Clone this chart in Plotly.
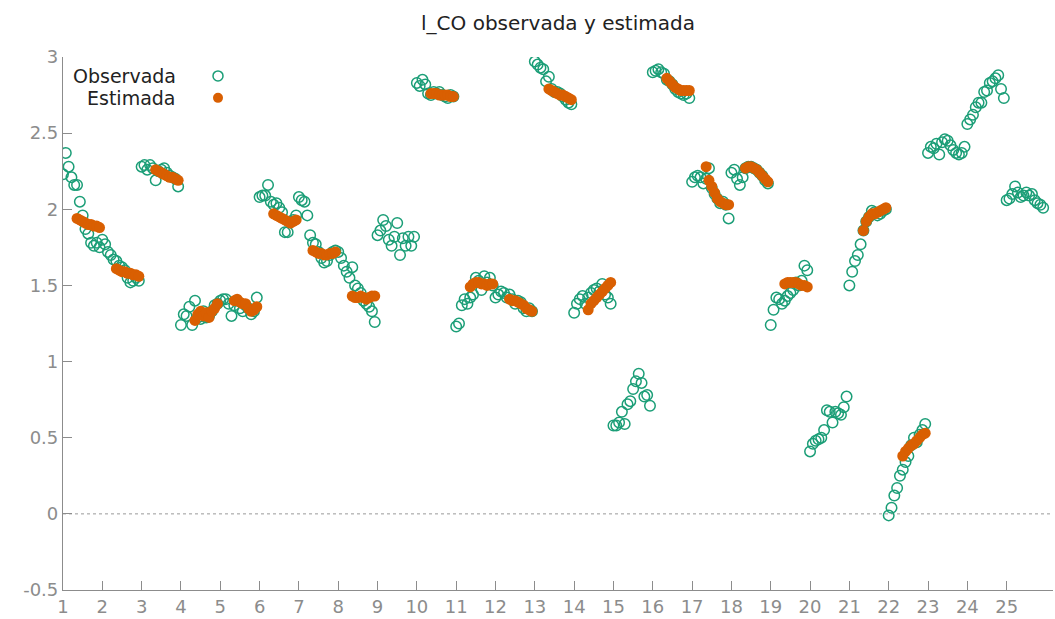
import plotly.graph_objects as go

T = 14
units = list(range(1, 26))

observed = {
    1: [2.23, 2.37, 2.28, 2.21, 2.16, 2.16, 2.05, 1.96, 1.87, 1.84, 1.78, 1.76, 1.78, 1.75],
    2: [1.80, 1.77, 1.72, 1.70, 1.67, 1.66, 1.63, 1.62, 1.60, 1.55, 1.52, 1.53, 1.55, 1.53],
    3: [2.28, 2.29, 2.26, 2.29, 2.27, 2.19, 2.25, 2.26, 2.27, 2.24, 2.22, 2.21, 2.20, 2.15],
    4: [1.24, 1.31, 1.30, 1.36, 1.24, 1.40, 1.29, 1.28, 1.33, 1.29, 1.30, 1.33, 1.37, 1.38],
    5: [1.40, 1.41, 1.41, 1.38, 1.30, 1.37, 1.40, 1.35, 1.33, 1.37, 1.35, 1.31, 1.33, 1.42],
    6: [2.08, 2.09, 2.09, 2.16, 2.05, 2.03, 2.04, 2.01, 1.98, 1.85, 1.85, 1.92, 1.93, 1.96],
    7: [2.08, 2.06, 2.05, 1.96, 1.83, 1.78, 1.77, 1.72, 1.68, 1.65, 1.66, 1.70, 1.72, 1.73],
    8: [1.72, 1.68, 1.63, 1.59, 1.55, 1.62, 1.50, 1.48, 1.45, 1.40, 1.38, 1.36, 1.33, 1.26],
    9: [1.83, 1.86, 1.93, 1.89, 1.80, 1.76, 1.82, 1.91, 1.70, 1.81, 1.76, 1.82, 1.76, 1.82],
    10: [2.83, 2.81, 2.85, 2.82, 2.76, 2.75, 2.77, 2.76, 2.77, 2.75, 2.74, 2.73, 2.75, 2.74],
    11: [1.23, 1.25, 1.37, 1.41, 1.38, 1.42, 1.44, 1.55, 1.53, 1.47, 1.56, 1.52, 1.55, 1.50],
    12: [1.42, 1.44, 1.46, 1.45, 1.42, 1.44, 1.41, 1.38, 1.40, 1.39, 1.35, 1.33, 1.35, 1.33],
    13: [2.97, 2.95, 2.93, 2.92, 2.84, 2.87, 2.79, 2.77, 2.77, 2.76, 2.74, 2.72, 2.70, 2.69],
    14: [1.32, 1.38, 1.41, 1.43, 1.38, 1.42, 1.45, 1.47, 1.48, 1.46, 1.51, 1.44, 1.42, 1.38],
    15: [0.58, 0.58, 0.60, 0.67, 0.59, 0.72, 0.74, 0.82, 0.87, 0.92, 0.86, 0.77, 0.78, 0.71],
    16: [2.90, 2.91, 2.92, 2.90, 2.89, 2.85, 2.84, 2.82, 2.79, 2.77, 2.76, 2.75, 2.76, 2.73],
    17: [2.18, 2.21, 2.22, 2.21, 2.17, 2.20, 2.27, 2.14, 2.10, 2.07, 2.04, 2.05, 2.03, 1.94],
    18: [2.24, 2.26, 2.20, 2.16, 2.21, 2.27, 2.28, 2.28, 2.27, 2.26, 2.24, 2.22, 2.19, 2.17],
    19: [1.24, 1.34, 1.42, 1.41, 1.38, 1.40, 1.43, 1.45, 1.47, 1.52, 1.50, 1.53, 1.63, 1.60],
    20: [0.41, 0.46, 0.48, 0.49, 0.50, 0.55, 0.68, 0.67, 0.60, 0.67, 0.66, 0.65, 0.70, 0.77],
    21: [1.50, 1.59, 1.66, 1.70, 1.77, 1.86, 1.92, 1.95, 1.99, 1.98, 1.96, 1.97, 1.99, 2.00],
    22: [-0.01, 0.04, 0.12, 0.17, 0.25, 0.29, 0.34, 0.38, 0.45, 0.50, 0.47, 0.52, 0.55, 0.59],
    23: [2.37, 2.41, 2.40, 2.43, 2.36, 2.44, 2.46, 2.45, 2.42, 2.39, 2.37, 2.36, 2.37, 2.41],
    24: [2.56, 2.59, 2.62, 2.67, 2.70, 2.70, 2.77, 2.78, 2.83, 2.84, 2.86, 2.88, 2.79, 2.73],
    25: [2.06, 2.07, 2.10, 2.15, 2.11, 2.08, 2.09, 2.11, 2.09, 2.10, 2.06, 2.04, 2.03, 2.01],
}

# estimated values for periods 6..14 (units absent = not estimated)
estimated = {
    1: [1.94, 1.93, 1.92, 1.91, 1.90, 1.90, 1.89, 1.89, 1.88],
    2: [1.61, 1.60, 1.59, 1.59, 1.58, 1.58, 1.57, 1.57, 1.56],
    3: [2.26, 2.25, 2.24, 2.23, 2.22, 2.21, 2.21, 2.20, 2.19],
    4: [1.27, 1.31, 1.33, 1.30, 1.32, 1.29, 1.33, 1.35, 1.38],
    5: [1.40, 1.41, 1.39, 1.38, 1.38, 1.35, 1.33, 1.34, 1.36],
    6: [1.97, 1.96, 1.95, 1.94, 1.93, 1.92, 1.91, 1.92, 1.93],
    7: [1.73, 1.72, 1.71, 1.71, 1.70, 1.70, 1.71, 1.71, 1.72],
    8: [1.43, 1.42, 1.42, 1.43, 1.42, 1.41, 1.42, 1.43, 1.43],
    10: [2.76, 2.76, 2.76, 2.75, 2.75, 2.75, 2.75, 2.74, 2.74],
    11: [1.49, 1.51, 1.52, 1.52, 1.51, 1.51, 1.50, 1.51, 1.51],
    12: [1.41, 1.40, 1.40, 1.39, 1.38, 1.37, 1.35, 1.34, 1.33],
    13: [2.79, 2.78, 2.77, 2.76, 2.75, 2.75, 2.74, 2.73, 2.72],
    14: [1.34, 1.38, 1.40, 1.42, 1.44, 1.46, 1.48, 1.50, 1.52],
    16: [2.86, 2.84, 2.82, 2.80, 2.79, 2.78, 2.78, 2.78, 2.78],
    17: [2.28, 2.19, 2.15, 2.11, 2.07, 2.05, 2.04, 2.03, 2.03],
    18: [2.27, 2.28, 2.28, 2.27, 2.26, 2.24, 2.22, 2.20, 2.18],
    19: [1.51, 1.52, 1.52, 1.52, 1.52, 1.51, 1.50, 1.50, 1.49],
    21: [1.86, 1.92, 1.95, 1.97, 1.97, 1.98, 1.99, 2.00, 2.01],
    22: [0.38, 0.41, 0.43, 0.45, 0.46, 0.48, 0.50, 0.52, 0.53],
}
EST_START = 6

y_ticks = [-0.5, 0, 0.5, 1, 1.5, 2, 2.5, 3]
y_tick_labels = ["-0.5", "0", "0.5", "1", "1.5", "2", "2.5", "3"]

# build series
obs_x, obs_y, est_x, est_y = [], [], [], []
for u in units:
    for t, v in enumerate(observed[u], start=1):
        idx = (u - 1) * T + t
        obs_x.append(idx)
        obs_y.append(v)
        if u in estimated and t >= EST_START:
            est_x.append(idx)
            est_y.append(estimated[u][t - EST_START])

GREEN = "#1b9e77"
ORANGE = "#d95f02"
AX = "#8c8c8c"
FONT = "DejaVu Sans"
TXT = "#222222"

fig = go.Figure()
fig.add_trace(go.Scatter(x=obs_x, y=obs_y, mode="markers", name="Observada",
                         marker=dict(symbol="circle-open", size=10.5, color=GREEN,
                                     line=dict(width=1.5, color=GREEN))))
fig.add_trace(go.Scatter(x=est_x, y=est_y, mode="markers", name="Estimada",
                         marker=dict(symbol="circle", size=11, color=ORANGE,
                                     line=dict(width=0))))

fig.update_layout(
    width=1055, height=619,
    margin=dict(l=63, r=2, t=57, b=27),
    paper_bgcolor="white", plot_bgcolor="white",
    showlegend=False,
    font=dict(family=FONT, size=18, color=TXT),
    title=dict(text="l_CO observada y estimada", x=(558) / 1055, xanchor="center",
               y=1 - 23 / 619, yanchor="middle", font=dict(size=20, color=TXT)),
    xaxis=dict(range=[1, 353.5], tickmode="array",
               tickvals=[(u - 1) * T + 1 for u in units],
               ticktext=[str(u) for u in units],
               showgrid=False, zeroline=False, showline=True, linecolor=AX, linewidth=1.2,
               ticks="inside", ticklen=9, tickcolor=AX, tickwidth=1.2,
               tickfont=dict(size=18, color=AX, family=FONT)),
    yaxis=dict(range=[-0.5, 3], tickmode="array", tickvals=y_ticks, ticktext=y_tick_labels,
               showgrid=False, zeroline=False, showline=True, linecolor=AX, linewidth=1.2,
               ticks="inside", ticklen=9, tickcolor=AX, tickwidth=1.2,
               tickfont=dict(size=18, color=AX, family=FONT)),
)

# dotted zero line
fig.add_shape(type="line", xref="paper", x0=0, x1=1, yref="y", y0=0, y1=0,
              line=dict(color="#9a9a9a", width=1, dash="dot"), layer="below")

# legend (text right-aligned, symbol to the right)
leg = [("Observada", 76, "open"), ("Estimada", 98, "filled")]
for label, ypx, kind in leg:
    yp = 1 - (ypx - 57) / (592 - 57)
    fig.add_annotation(text=label, xref="paper", yref="paper", x=(178 - 63) / 990, y=yp,
                       xanchor="right", yanchor="middle", showarrow=False,
                       font=dict(size=19, color=TXT, family=FONT))
    fig.add_shape(type="circle", xref="paper", yref="paper",
                  xsizemode="pixel", ysizemode="pixel",
                  xanchor=(218 - 63) / 990, yanchor=yp,
                  x0=-5, x1=5, y0=-5, y1=5,
                  line=dict(color=GREEN if kind == "open" else ORANGE,
                            width=1.5 if kind == "open" else 0),
                  fillcolor="rgba(0,0,0,0)" if kind == "open" else ORANGE)

fig.write_html("out.html")
